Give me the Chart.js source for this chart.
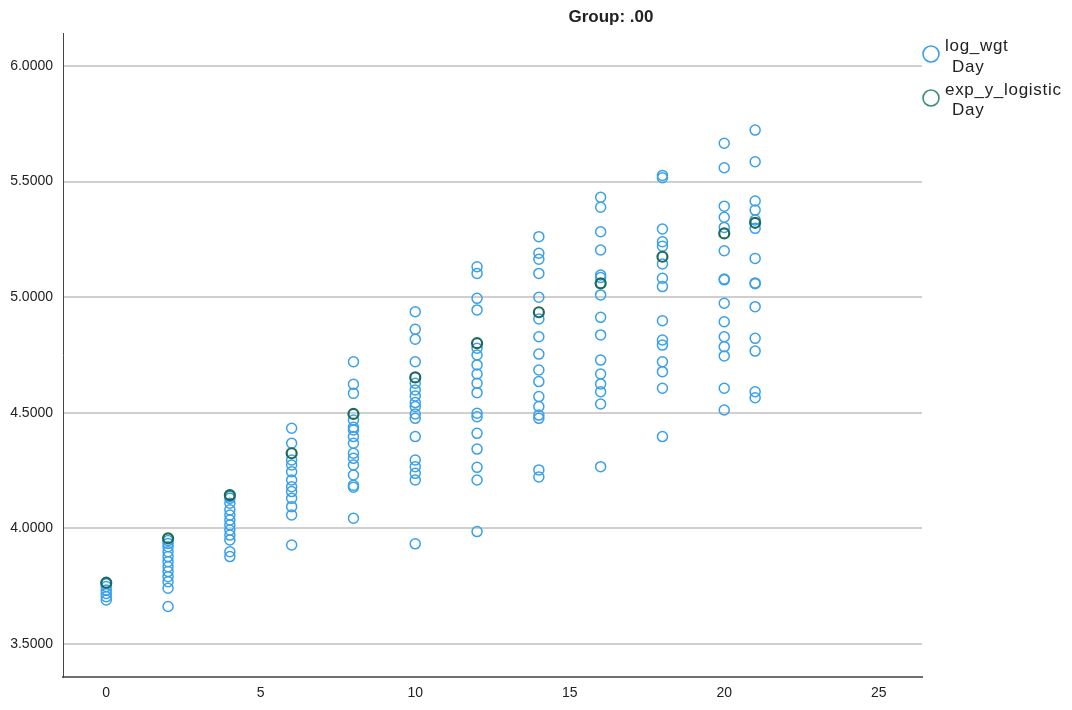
<!DOCTYPE html>
<html>
<head>
<meta charset="utf-8">
<script src="https://cdn.jsdelivr.net/npm/chart.js@4/dist/chart.umd.min.js"></script>
<style>
  html, body { margin: 0; padding: 0; background: #ffffff; }
  #wrap { width: 1072px; height: 710px; position: relative; }
</style>
</head>
<body>
<div id="wrap"><canvas id="c" width="1072" height="710"></canvas></div>
<script>
// Measurement days
const days = [0, 2, 4, 6, 8, 10, 12, 14, 16, 18, 20, 21];

// Observed log weight per day
const logWgtDay0  = [3.760, 3.748, 3.733, 3.718, 3.704, 3.690];
const logWgtDay2  = [3.947, 3.935, 3.921, 3.899, 3.878, 3.856, 3.834, 3.813, 3.791, 3.769, 3.741, 3.662];
const logWgtDay4  = [4.138, 4.130, 4.109, 4.080, 4.058, 4.036, 4.015, 3.993, 3.971, 3.950, 3.899, 3.878];
const logWgtDay6  = [4.433, 4.368, 4.296, 4.274, 4.245, 4.209, 4.180, 4.159, 4.130, 4.094, 4.058, 3.928];
const logWgtDay8  = [4.721, 4.623, 4.584, 4.469, 4.437, 4.426, 4.397, 4.368, 4.325, 4.303, 4.274, 4.231, 4.186, 4.178, 4.044];
const logWgtDay10 = [4.937, 4.861, 4.818, 4.721, 4.628, 4.599, 4.573, 4.544, 4.527, 4.495, 4.476, 4.397, 4.296, 4.267, 4.238, 4.209, 3.933];
const logWgtDay12 = [5.132, 5.103, 4.995, 4.945, 4.779, 4.750, 4.707, 4.668, 4.628, 4.587, 4.498, 4.483, 4.411, 4.343, 4.264, 4.209, 3.986];
const logWgtDay14 = [5.262, 5.190, 5.164, 5.103, 5.000, 4.906, 4.829, 4.754, 4.685, 4.635, 4.570, 4.527, 4.490, 4.476, 4.253, 4.222];
const logWgtDay16 = [5.432, 5.389, 5.283, 5.204, 5.096, 5.085, 5.010, 4.913, 4.837, 4.728, 4.668, 4.625, 4.591, 4.538, 4.267];
const logWgtDay18 = [5.527, 5.517, 5.295, 5.240, 5.221, 5.144, 5.082, 5.046, 4.898, 4.815, 4.793, 4.721, 4.678, 4.606, 4.397];
const logWgtDay20 = [5.666, 5.560, 5.394, 5.346, 5.302, 5.201, 5.079, 5.075, 4.974, 4.894, 4.829, 4.786, 4.746, 4.606, 4.512];
const logWgtDay21 = [5.723, 5.586, 5.416, 5.377, 5.334, 5.298, 5.168, 5.062, 5.058, 4.959, 4.822, 4.767, 4.591, 4.565];

// Fitted logistic curve value per day
const expYLogistic = [3.765, 3.957, 4.144, 4.325, 4.495, 4.653, 4.801, 4.935, 5.060, 5.175, 5.276, 5.322];

// Axis ticks
const xTicks = [0, 5, 10, 15, 20, 25];
const yTicks = [3.5, 4.0, 4.5, 5.0, 5.5, 6.0];

const titleText = 'Group: .00';
const seriesNames = [['log_wgt', 'Day'], ['exp_y_logistic', 'Day']];

const BLUE = '#3aa0ea';
const GREEN = '#1d6a5b';
const GREEN_KEY = '#3f8a7c';
const FONT = "'Liberation Sans', Arial, sans-serif";

const logWgtByDay = [logWgtDay0, logWgtDay2, logWgtDay4, logWgtDay6, logWgtDay8, logWgtDay10,
                     logWgtDay12, logWgtDay14, logWgtDay16, logWgtDay18, logWgtDay20, logWgtDay21];

const observedPoints = [];
days.forEach((d, i) => logWgtByDay[i].forEach(v => observedPoints.push({ x: d, y: v })));
const fittedPoints = days.map((d, i) => ({ x: d, y: expYLogistic[i] }));

// Title and two-line legend keys
const decorations = {
  id: 'decorations',
  afterDraw(chart) {
    const ctx = chart.ctx;
    ctx.save();
    ctx.fillStyle = '#222';
    ctx.font = "bold 17px 'Liberation Sans Narrow', 'Liberation Sans', Arial, sans-serif";
    ctx.textAlign = 'center';
    ctx.textBaseline = 'middle';
    ctx.fillText(titleText, 611, 17);

    const keys = [
      { color: BLUE, cy: 54, lines: seriesNames[0], ty: [46, 67] },
      { color: GREEN_KEY, cy: 98, lines: seriesNames[1], ty: [90, 110] }
    ];
    keys.forEach(k => {
      ctx.beginPath();
      ctx.arc(931, k.cy, 8, 0, Math.PI * 2);
      ctx.strokeStyle = k.color;
      ctx.lineWidth = 1.6;
      ctx.stroke();
      ctx.fillStyle = '#222';
      ctx.font = '17px ' + FONT;
      if ('letterSpacing' in ctx) ctx.letterSpacing = '0.7px';
      ctx.textAlign = 'left';
      ctx.fillText(k.lines[0], 945, k.ty[0]);
      ctx.fillText(k.lines[1], 952, k.ty[1]);
      if ('letterSpacing' in ctx) ctx.letterSpacing = '0px';
    });
    ctx.restore();
  }
};

new Chart(document.getElementById('c'), {
  type: 'scatter',
  data: {
    datasets: [
      {
        label: 'exp_y_logistic',
        data: fittedPoints,
        pointStyle: 'circle',
        pointRadius: 5,
        pointBorderWidth: 2.2,
        borderColor: GREEN,
        backgroundColor: 'rgba(0,0,0,0)'
      },
      {
        label: 'log_wgt',
        data: observedPoints,
        pointStyle: 'circle',
        pointRadius: 5,
        pointBorderWidth: 1.5,
        borderColor: BLUE,
        backgroundColor: 'rgba(0,0,0,0)'
      }
    ]
  },
  options: {
    responsive: false,
    animation: false,
    devicePixelRatio: 1,
    layout: { padding: { left: 0, top: 33, right: 150, bottom: 0 } },
    plugins: {
      legend: { display: false },
      title: { display: false },
      tooltip: { enabled: false }
    },
    scales: {
      x: {
        type: 'linear',
        min: -1.4,
        max: 26.4,
        afterBuildTicks: s => { s.ticks = xTicks.map(v => ({ value: v })); },
        afterFit: s => { s.height = 33; },
        grid: { display: false, drawTicks: false },
        border: { display: true, color: '#707070', width: 2 },
        ticks: { color: '#222', font: { family: FONT, size: 14 }, padding: 8, maxRotation: 0 }
      },
      y: {
        type: 'linear',
        min: 3.357,
        max: 6.143,
        afterBuildTicks: s => { s.ticks = yTicks.map(v => ({ value: v })); },
        afterFit: s => { s.width = 63; },
        grid: { color: '#cfcfcf', lineWidth: 2, drawTicks: false },
        border: { display: true, color: '#444', width: 1 },
        ticks: {
          color: '#222',
          font: { family: FONT, size: 14 },
          padding: 10,
          callback: v => Number(v).toFixed(4)
        }
      }
    }
  },
  plugins: [decorations]
});
</script>
</body>
</html>
